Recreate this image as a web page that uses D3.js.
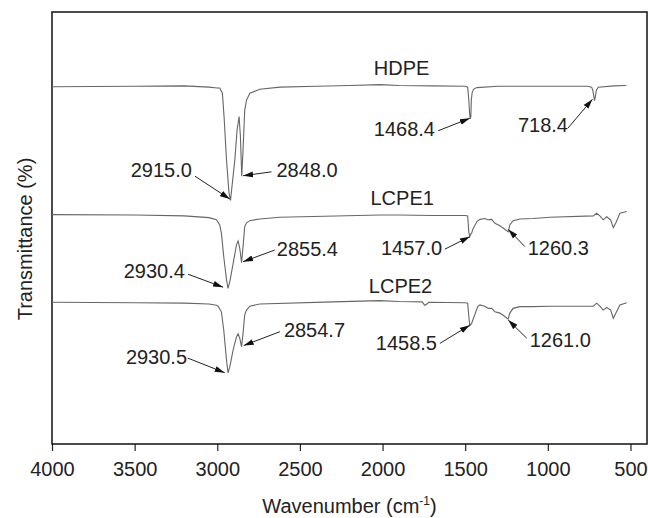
<!DOCTYPE html>
<html>
<head>
<meta charset="utf-8">
<script src="https://cdn.jsdelivr.net/npm/d3@7"></script>
<style>
  body { margin: 0; background: #fff; }
  text { font-family: "Liberation Sans", Arial, sans-serif; fill: #222; }
</style>
</head>
<body>
<div id="chart"></div>
<script>
/* spectra: wavenumber (cm-1) and offset transmittance (arbitrary, stacked) */
const hdpeWave = [4000, 3500, 3200, 3050, 3000, 2985, 2969, 2959, 2944, 2929, 2920, 2894, 2880, 2868, 2860, 2852, 2844, 2834, 2823, 2803, 2743, 2620, 2400, 2200, 2017, 1900, 1700, 1500, 1485, 1478, 1474, 1470, 1466, 1463, 1458, 1450, 1430, 1300, 1000, 760, 735, 728, 722, 718, 713, 706, 695, 600, 525];
const hdpeT    = [82.7, 82.8, 82.9, 82.6, 82.4, 82.4, 81.2, 75.8, 65.7, 58.1, 56.4, 65.7, 72.7, 75.8, 71.2, 62.0, 68.1, 77.3, 79.6, 81.2, 82.1, 82.6, 82.8, 83.0, 83.2, 83.0, 82.9, 82.8, 82.6, 79.6, 76.9, 75.3, 75.7, 79.6, 81.3, 82.1, 82.5, 82.8, 82.8, 82.8, 82.6, 81.9, 80.6, 79.5, 80.3, 81.9, 82.6, 82.9, 83.0];

const lcpe1Wave = [4000, 3500, 3200, 3050, 3005, 2985, 2975, 2961, 2944, 2935, 2924, 2904, 2884, 2874, 2864, 2853, 2844, 2834, 2823, 2803, 2743, 2622, 2017, 1900, 1700, 1500, 1485, 1478, 1472, 1466, 1461, 1453, 1429, 1411, 1381, 1363, 1340, 1320, 1290, 1260, 1240, 1230, 1210, 1169, 1090, 987, 725, 705, 685, 665, 644, 620, 604, 588, 564, 523];
const lcpe1T    = [53.1, 53.0, 52.8, 52.4, 51.9, 50.7, 48.8, 43.4, 38.0, 36.0, 37.6, 41.8, 46.1, 47.0, 45.3, 42.0, 45.7, 50.3, 51.2, 51.7, 52.1, 52.5, 53.0, 53.0, 52.9, 52.9, 52.8, 49.0, 48.0, 48.6, 48.8, 49.8, 51.5, 52.0, 52.2, 51.9, 52.0, 51.1, 50.5, 49.7, 49.1, 50.7, 51.7, 52.1, 52.2, 52.5, 52.8, 53.4, 52.8, 51.9, 52.6, 51.9, 50.1, 51.2, 53.4, 53.8];

const lcpe2Wave = [4000, 3500, 3200, 3050, 3005, 2995, 2975, 2961, 2944, 2935, 2924, 2904, 2884, 2874, 2864, 2853, 2844, 2834, 2823, 2803, 2743, 2300, 2017, 1900, 1760, 1745, 1735, 1720, 1500, 1485, 1476, 1472, 1461, 1450, 1424, 1411, 1381, 1360, 1340, 1320, 1290, 1260, 1240, 1230, 1210, 1169, 1090, 987, 725, 705, 685, 665, 644, 620, 604, 588, 564, 523];
const lcpe2T    = [32.8, 32.7, 32.6, 32.4, 32.1, 31.9, 30.6, 26.4, 19.4, 16.5, 17.9, 21.8, 24.8, 25.5, 24.5, 22.5, 25.6, 29.9, 31.0, 31.9, 32.4, 32.9, 33.2, 33.0, 32.9, 32.1, 32.3, 32.8, 32.7, 32.6, 28.7, 27.4, 27.9, 29.1, 31.8, 32.2, 31.9, 31.4, 31.4, 30.6, 30.3, 29.5, 28.9, 30.3, 31.4, 31.8, 31.8, 31.9, 31.9, 32.6, 31.9, 31.0, 31.6, 31.0, 29.1, 30.3, 32.2, 32.7];

const xTicks = [4000, 3500, 3000, 2500, 2000, 1500, 1000, 500];

/* sample names: label anchor in data coords */
const sampleNames = ["HDPE", "LCPE1", "LCPE2"];
const sampleNameAt = [[2053, 85.4], [2073, 55.4], [2083, 35.0]];

/* peak annotations: text, text anchor, arrow tail, arrow tip (data coords) */
const peakText = ["2915.0", "2848.0", "1468.4", "718.4",
                  "2930.4", "2855.4", "1457.0", "1260.3",
                  "2930.5", "2854.7", "1458.5", "1261.0"];
const peakTextAt = [[3524, 61.8], [2642, 61.9], [2053, 71.3], [1181, 72.3],
                    [3566, 38.5], [2640, 43.5], [2010, 43.75], [1122, 43.75],
                    [3553, 18.6], [2597, 24.7], [2041, 21.8], [1110, 22.5]];
const arrowFrom = [[3135, 62.0], [2672, 63.0], [1664, 72.5], [879, 73.1],
                   [3177, 39.3], [2652, 44.9], [1623, 45.1], [1139, 45.7],
                   [3179, 19.9], [2621, 26.0], [1653, 23.3], [1128, 24.5]];
const arrowTo = [[2924, 56.7], [2844, 62.1], [1472, 75.4], [730, 79.8],
                 [2965, 36.3], [2844, 42.2], [1472, 48.0], [1240, 49.7],
                 [2955, 16.5], [2840, 22.8], [1472, 27.5], [1240, 28.7]];

const margin = { top: 12, right: 1, bottom: 74, left: 52 },
      width = 648 - margin.left - margin.right,
      height = 518 - margin.top - margin.bottom;

const svg = d3.select("#chart")
  .append("svg")
  .attr("width", 648)
  .attr("height", 518);

svg.append("defs").append("marker")
  .attr("id", "head")
  .attr("markerUnits", "userSpaceOnUse")
  .attr("viewBox", "0 -4 10 8")
  .attr("refX", 10).attr("refY", 0)
  .attr("markerWidth", 10).attr("markerHeight", 8)
  .attr("orient", "auto")
  .append("path")
  .attr("d", "M0,-3L10,0L0,3Z")
  .attr("fill", "#111");

const g = svg.append("g")
  .attr("transform", `translate(${margin.left},${margin.top})`);

const x = d3.scaleLinear().domain([4000, 400]).range([0, width]);
const y = d3.scaleLinear().domain([0, 100]).range([height, 0]);

/* x axis */
const xAxis = g.append("g")
  .attr("transform", `translate(0,${height})`)
  .call(d3.axisBottom(x).tickValues(xTicks).tickSize(7).tickSizeOuter(0).tickPadding(11).tickFormat(d3.format("d")));
xAxis.select(".domain").remove();
xAxis.selectAll(".tick line").attr("stroke", "#222").attr("stroke-width", 1.2);
xAxis.selectAll(".tick text").style("font-size", "20px").attr("fill", "#222");

/* frame */
g.append("rect")
  .attr("x", 0).attr("y", 0)
  .attr("width", width).attr("height", height)
  .attr("fill", "none")
  .attr("stroke", "#111")
  .attr("stroke-width", 1.5);

/* spectra */
const line = d3.line()
  .x(d => x(d[0]))
  .y(d => y(d[1]));

[[hdpeWave, hdpeT], [lcpe1Wave, lcpe1T], [lcpe2Wave, lcpe2T]].forEach(function(s) {
  g.append("path")
    .datum(d3.zip(s[0], s[1]))
    .attr("fill", "none")
    .attr("stroke", "#666")
    .attr("stroke-width", 1.1)
    .attr("d", line);
});

/* sample names */
g.selectAll(".name")
  .data(sampleNames)
  .enter()
  .append("text")
  .attr("class", "name")
  .attr("x", (d, i) => x(sampleNameAt[i][0]))
  .attr("y", (d, i) => y(sampleNameAt[i][1]))
  .style("font-size", "20px")
  .text(d => d);

/* peak labels and arrows */
g.selectAll(".peak")
  .data(peakText)
  .enter()
  .append("text")
  .attr("class", "peak")
  .attr("x", (d, i) => x(peakTextAt[i][0]))
  .attr("y", (d, i) => y(peakTextAt[i][1]))
  .style("font-size", "20px")
  .text(d => d);

g.selectAll(".arrow")
  .data(arrowFrom)
  .enter()
  .append("line")
  .attr("class", "arrow")
  .attr("x1", d => x(d[0]))
  .attr("y1", d => y(d[1]))
  .attr("x2", (d, i) => x(arrowTo[i][0]))
  .attr("y2", (d, i) => y(arrowTo[i][1]))
  .attr("stroke", "#222")
  .attr("stroke-width", 1)
  .attr("marker-end", "url(#head)");

/* axis titles */
const xt = svg.append("text")
  .attr("x", margin.left + width / 2)
  .attr("y", 513)
  .attr("text-anchor", "middle")
  .style("font-size", "20px");
xt.append("tspan").text("Wavenumber (cm");
xt.append("tspan").attr("dy", -8).style("font-size", "12px").text("-1");
xt.append("tspan").attr("dy", 8).text(")");

svg.append("text")
  .attr("transform", "translate(32,239) rotate(-90)")
  .attr("text-anchor", "middle")
  .style("font-size", "20px")
  .text("Transmittance (%)");
</script>
</body>
</html>
